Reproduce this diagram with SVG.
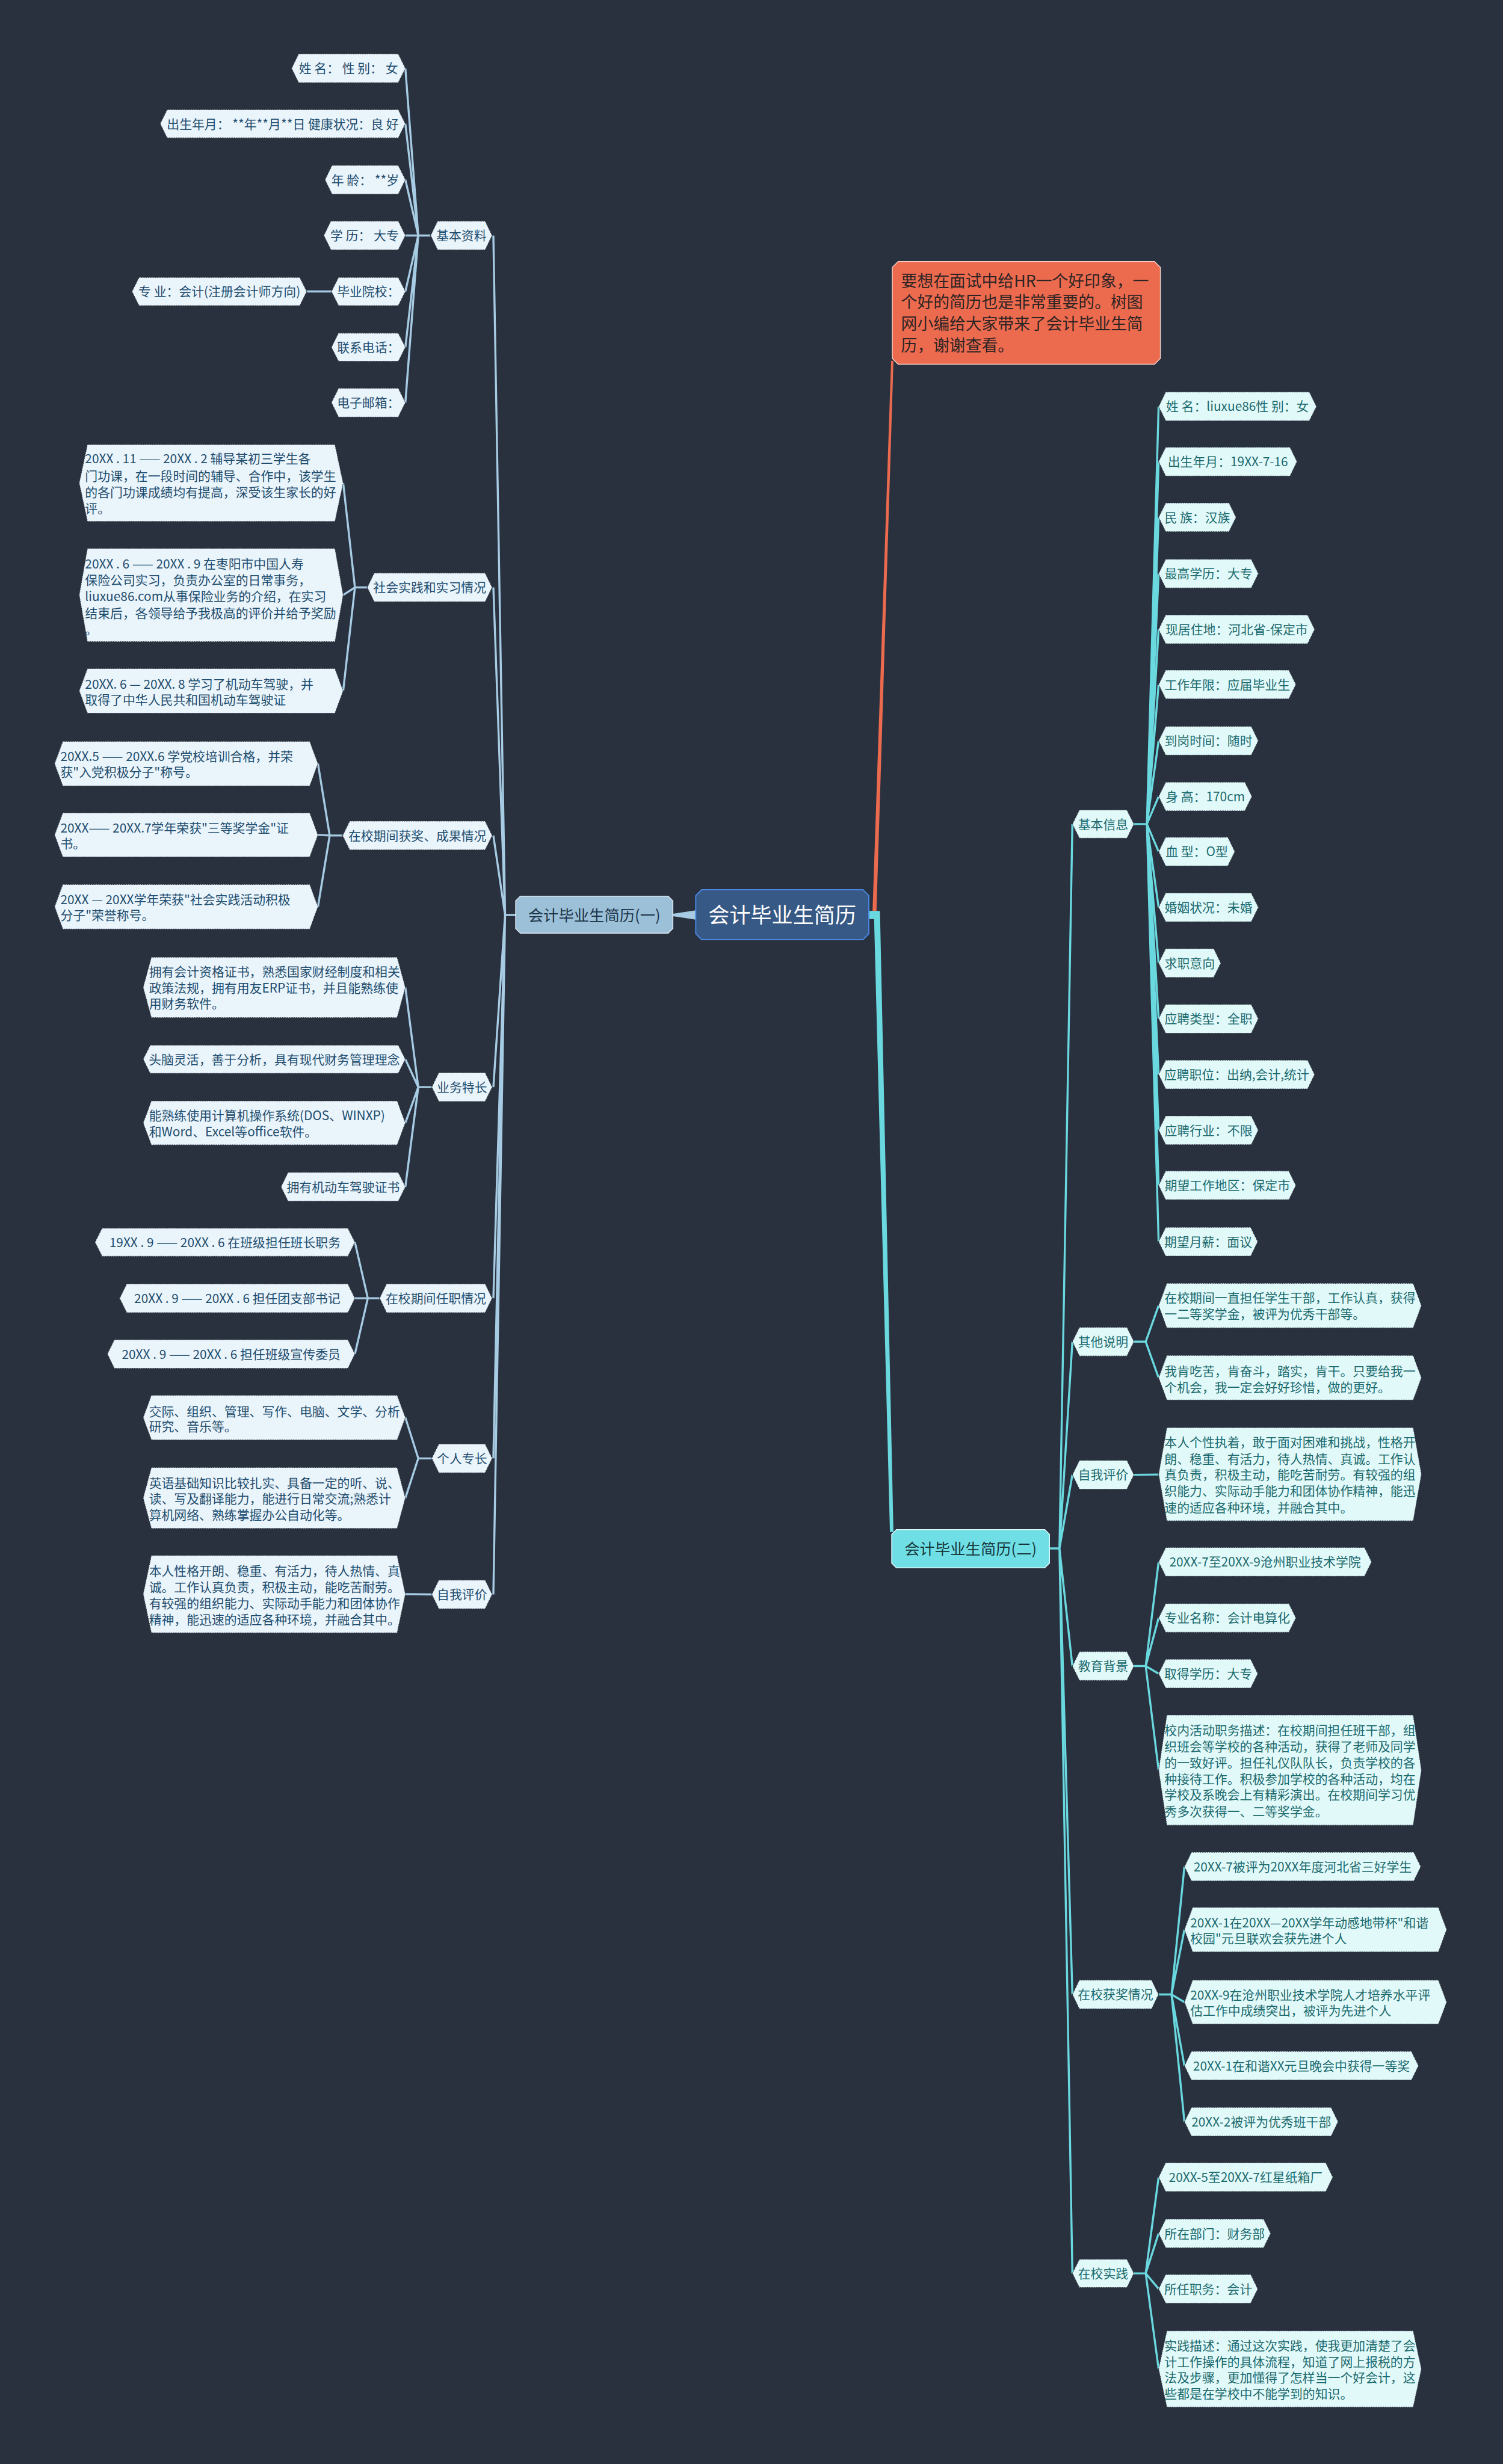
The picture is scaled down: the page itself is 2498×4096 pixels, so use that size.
<svg xmlns="http://www.w3.org/2000/svg" width="2498" height="4096" viewBox="0 0 2498 4096">
<style>
text{font-family:"Noto Sans CJK SC","Noto Sans",sans-serif;font-size:21.4px}
.hl polygon{fill:#eaf4fb;stroke:#2b3440;stroke-width:1.2;stroke-dasharray:1.5 1.5}
.hl text{fill:#1e4d6e}
.hr polygon{fill:#e2f9fa;stroke:#2b3440;stroke-width:1.2;stroke-dasharray:1.5 1.5}
.hr text{fill:#1b6a6d}
.c{text-anchor:middle}
.cl{fill:none;stroke:#a6cbe3;stroke-width:3.5;stroke-linejoin:round}
.cr{fill:none;stroke:#6ad8df;stroke-width:3.5;stroke-linejoin:round}
</style>
<rect width="2498" height="4096" fill="#29303e"/>
<g transform="scale(0.975)">
<g id="connectors">
<polygon points="1186,1552 1186,1568 1147,1562 1147,1558" fill="#a6cbe3"/>
<polygon points="1481,1556 1494,1556 1523,615 1519,615 1487,1564 1481,1564" fill="#ec6a4e"/>
<polygon points="1481,1553 1500,1553 1523,2612 1517,2612 1490,1567 1481,1567" fill="#6ad8df"/>
<path class="cl" d="M879,1560 L861,1560 L841,401.5 M861,1560 L841,1001.5 M861,1560 L841,1424.5 M861,1560 L841,1853.5 M861,1560 L841,2213.5 M861,1560 L841,2486.5 M861,1560 L841,2718.5"/>
<path class="cl" d="M734,401.5 L713,401.5 L691,116.5 M713,401.5 L691,211 M713,401.5 L691,306.5 M713,401.5 L691,401.5 M713,401.5 L691,497 M713,401.5 L691,592 M713,401.5 L691,686.5 M565,497 L523,497"/>
<path class="cl" d="M626,1001.5 L605,1001.5 L585,823.5 M605,1001.5 L585,1014.5 M605,1001.5 L585,1178"/>
<path class="cl" d="M584,1424.5 L562,1424.5 L542,1302 M562,1424.5 L542,1423.5 M562,1424.5 L542,1546"/>
<path class="cl" d="M736,1853.5 L713,1853.5 L691,1683.5 M713,1853.5 L691,1806 M713,1853.5 L691,1914.5 M713,1853.5 L691,2023.5"/>
<path class="cl" d="M647,2213.5 L627,2213.5 L605,2118 M627,2213.5 L605,2213.5 M627,2213.5 L605,2308.5"/>
<path class="cl" d="M736,2486.5 L713,2486.5 L691,2417 M713,2486.5 L691,2554"/>
<path class="cl" d="M736,2718.5 L691,2718"/>
<path class="cr" d="M1789,2640 L1806,2640 L1828,1405 M1806,2640 L1828,2287.5 M1806,2640 L1828,2514.5 M1806,2640 L1828,2840.5 M1806,2640 L1828,3400.5 M1806,2640 L1828,3876"/>
<path class="cr" d="M1933,1405 L1955,1405 L1975,693 M1955,1405 L1975,787 M1955,1405 L1975,882 M1955,1405 L1975,978 M1955,1405 L1975,1073 M1955,1405 L1975,1167 M1955,1405 L1975,1263 M1955,1405 L1975,1358 M1955,1405 L1975,1452 M1955,1405 L1975,1547 M1955,1405 L1975,1642 M1955,1405 L1975,1737 M1955,1405 L1975,1832 M1955,1405 L1975,1927 M1955,1405 L1975,2021 M1955,1405 L1975,2117"/>
<path class="cr" d="M1933,2287.5 L1953,2287.5 L1975,2226 M1953,2287.5 L1975,2349"/>
<path class="cr" d="M1933,2514.5 L1975,2514"/>
<path class="cr" d="M1933,2840.5 L1953,2840.5 L1975,2663 M1953,2840.5 L1975,2758.5 M1953,2840.5 L1975,2853.5 M1953,2840.5 L1975,3018"/>
<path class="cr" d="M1975,3400.5 L1997,3400.5 L2019,3182.5 M1997,3400.5 L2019,3290 M1997,3400.5 L2019,3413.5 M1997,3400.5 L2019,3522 M1997,3400.5 L2019,3617.5"/>
<path class="cr" d="M1933,3876 L1953,3876 L1975,3712 M1953,3876 L1975,3808 M1953,3876 L1975,3902.5 M1953,3876 L1975,4039"/>
</g>

<g id="root"><polygon points="1196,1517 1471,1517 1481,1527 1481,1592 1471,1602 1196,1602 1186,1592 1186,1527" fill="#375985" stroke="#4a86e0" stroke-width="2"/><text x="1333.5" y="1573" class="c" fill="#ffffff" style="font-size:36px">会计毕业生简历</text></g>
<g id="note"><polygon points="1531,446 1968,446 1978,456 1978,611 1968,621 1531,621 1521,611 1521,456" fill="#ec6a4e" stroke="#f6d3c9" stroke-width="1.5"/><text fill="#2e2424" style="font-size:27.5px"><tspan x="1536" y="489">要想在面试中给HR一个好印象，一</tspan><tspan x="1536" y="525">个好的简历也是非常重要的。树图</tspan><tspan x="1536" y="562">网小编给大家带来了会计毕业生简</tspan><tspan x="1536" y="599">历，谢谢查看。</tspan></text></g>
<g id="b1"><polygon points="887,1528 1139,1528 1147,1536 1147,1583 1139,1591 887,1591 879,1583 879,1536" fill="#9cc0d8" stroke="#dce9f2" stroke-width="1.5"/><text x="1013" y="1570" class="c" fill="#1c3448" style="font-size:26px">会计毕业生简历(一)</text></g>
<g id="b2"><polygon points="1528,2608 1781,2608 1789,2616 1789,2665 1781,2673 1528,2673 1520,2665 1520,2616" fill="#6fdfe5" stroke="#dff7f8" stroke-width="1.5"/><text x="1654.5" y="2650" class="c" fill="#17363a" style="font-size:26px">会计毕业生简历(二)</text></g>

<g id="n1" class="hl"><polygon points="734,401.5 746,377 827,377 839,401.5 827,426 746,426"/><text x="786.5" y="409.5" class="c">基本资料</text></g>
<g id="n1a" class="hl"><polygon points="497,116.5 509,92 679,92 691,116.5 679,141 509,141"/><text x="594" y="124.5" class="c">姓 名： 性 别： 女</text></g>
<g id="n1b" class="hl"><polygon points="273,211 285,187 679,187 691,211 679,235 285,235"/><text x="482" y="219" class="c">出生年月： **年**月**日 健康状况：良 好</text></g>
<g id="n1c" class="hl"><polygon points="554,306.5 566,282 679,282 691,306.5 679,331 566,331"/><text x="622.5" y="314.5" class="c">年 龄： **岁</text></g>
<g id="n1d" class="hl"><polygon points="552,401.5 564,377 679,377 691,401.5 679,426 564,426"/><text x="621.5" y="409.5" class="c">学 历： 大专</text></g>
<g id="n1e" class="hl"><polygon points="565,497 577,473 679,473 691,497 679,521 577,521"/><text x="628" y="505" class="c">毕业院校：</text></g>
<g id="n1e1" class="hl"><polygon points="225,497 237,473 511,473 523,497 511,521 237,521"/><text x="374" y="505" class="c">专 业：会计(注册会计师方向)</text></g>
<g id="n1f" class="hl"><polygon points="565,592 577,568 679,568 691,592 679,616 577,616"/><text x="628" y="600" class="c">联系电话：</text></g>
<g id="n1g" class="hl"><polygon points="565,686.5 577,662 679,662 691,686.5 679,711 577,711"/><text x="628" y="694.5" class="c">电子邮箱：</text></g>

<g id="n2" class="hl"><polygon points="626,1001.5 638,977 827,977 839,1001.5 827,1026 638,1026"/><text x="732.5" y="1009.5" class="c">社会实践和实习情况</text></g>
<g id="n2a" class="hl"><polygon points="135,823.5 149,758 571,758 585,823.5 571,889 149,889"/><text><tspan x="145" y="790">20XX . 11 —— 20XX . 2  辅导某初三学生各</tspan><tspan x="145" y="819">门功课，在一段时间的辅导、合作中，该学生</tspan><tspan x="145" y="847">的各门功课成绩均有提高，深受该生家长的好</tspan><tspan x="145" y="875">评。</tspan></text></g>
<g id="n2b" class="hl"><polygon points="135,1014.5 149,935 571,935 585,1014.5 571,1094 149,1094"/><text><tspan x="145" y="969">20XX . 6 —— 20XX . 9  在枣阳市中国人寿</tspan><tspan x="145" y="997">保险公司实习，负责办公室的日常事务，</tspan><tspan x="145" y="1025">liuxue86.com从事保险业务的介绍，在实习</tspan><tspan x="145" y="1053">结束后，各领导给予我极高的评价并给予奖励</tspan><tspan x="145" y="1081">。</tspan></text></g>
<g id="n2c" class="hl"><polygon points="135,1178 149,1140 571,1140 585,1178 571,1216 149,1216"/><text><tspan x="145" y="1174">20XX. 6 — 20XX. 8 学习了机动车驾驶，并</tspan><tspan x="145" y="1201">取得了中华人民共和国机动车驾驶证</tspan></text></g>

<g id="n3" class="hl"><polygon points="584,1424.5 596,1400 827,1400 839,1424.5 827,1449 596,1449"/><text x="711.5" y="1432.5" class="c">在校期间获奖、成果情况</text></g>
<g id="n3a" class="hl"><polygon points="93,1302 107,1264 528,1264 542,1302 528,1340 107,1340"/><text><tspan x="103" y="1297">20XX.5 —— 20XX.6 学党校培训合格，并荣</tspan><tspan x="103" y="1324">获"入党积极分子"称号。</tspan></text></g>
<g id="n3b" class="hl"><polygon points="93,1423.5 107,1386 528,1386 542,1423.5 528,1461 107,1461"/><text><tspan x="103" y="1419">20XX—— 20XX.7学年荣获"三等奖学金"证</tspan><tspan x="103" y="1446">书。</tspan></text></g>
<g id="n3c" class="hl"><polygon points="93,1546 107,1508 528,1508 542,1546 528,1584 107,1584"/><text><tspan x="103" y="1542">20XX — 20XX学年荣获"社会实践活动积极</tspan><tspan x="103" y="1568">分子"荣誉称号。</tspan></text></g>

<g id="n4" class="hl"><polygon points="736,1853.5 748,1829 827,1829 839,1853.5 827,1878 748,1878"/><text x="787.5" y="1861.5" class="c">业务特长</text></g>
<g id="n4a" class="hl"><polygon points="244,1683.5 258,1632 677,1632 691,1683.5 677,1735 258,1735"/><text><tspan x="254" y="1665">拥有会计资格证书，熟悉国家财经制度和相关</tspan><tspan x="254" y="1692">政策法规，拥有用友ERP证书，并且能熟练使</tspan><tspan x="254" y="1719">用财务软件。</tspan></text></g>
<g id="n4b" class="hl"><polygon points="244,1806 256,1782 679,1782 691,1806 679,1830 256,1830"/><text x="467.5" y="1814" class="c">头脑灵活，善于分析，具有现代财务管理理念</text></g>
<g id="n4c" class="hl"><polygon points="244,1914.5 258,1877 677,1877 691,1914.5 677,1952 258,1952"/><text><tspan x="254" y="1910">能熟练使用计算机操作系统(DOS、WINXP)</tspan><tspan x="254" y="1937">和Word、Excel等office软件。</tspan></text></g>
<g id="n4d" class="hl"><polygon points="479,2023.5 491,1999 679,1999 691,2023.5 679,2048 491,2048"/><text x="585" y="2031.5" class="c">拥有机动车驾驶证书</text></g>

<g id="n5" class="hl"><polygon points="647,2213.5 659,2189 827,2189 839,2213.5 827,2238 659,2238"/><text x="743" y="2221.5" class="c">在校期间任职情况</text></g>
<g id="n5a" class="hl"><polygon points="162,2118 174,2094 593,2094 605,2118 593,2142 174,2142"/><text x="383.5" y="2126" class="c">19XX . 9 —— 20XX . 6 在班级担任班长职务</text></g>
<g id="n5b" class="hl"><polygon points="204,2213.5 216,2189 593,2189 605,2213.5 593,2238 216,2238"/><text x="404.5" y="2221.5" class="c">20XX . 9 —— 20XX . 6 担任团支部书记</text></g>
<g id="n5c" class="hl"><polygon points="183,2308.5 195,2284 593,2284 605,2308.5 593,2333 195,2333"/><text x="394" y="2316.5" class="c">20XX . 9 —— 20XX . 6 担任班级宣传委员</text></g>

<g id="n6" class="hl"><polygon points="736,2486.5 748,2462 827,2462 839,2486.5 827,2511 748,2511"/><text x="787.5" y="2494.5" class="c">个人专长</text></g>
<g id="n6a" class="hl"><polygon points="244,2417 258,2379 677,2379 691,2417 677,2455 258,2455"/><text><tspan x="254" y="2414">交际、组织、管理、写作、电脑、文学、分析</tspan><tspan x="254" y="2440">研究、音乐等。</tspan></text></g>
<g id="n6b" class="hl"><polygon points="244,2554 258,2502 677,2502 691,2554 677,2606 258,2606"/><text><tspan x="254" y="2536">英语基础知识比较扎实、具备一定的听、说、</tspan><tspan x="254" y="2563">读、写及翻译能力，能进行日常交流;熟悉计</tspan><tspan x="254" y="2591">算机网络、熟练掌握办公自动化等。</tspan></text></g>

<g id="n7" class="hl"><polygon points="736,2718.5 748,2694 827,2694 839,2718.5 827,2743 748,2743"/><text x="787.5" y="2726.5" class="c">自我评价</text></g>
<g id="n7a" class="hl"><polygon points="244,2718 258,2652 677,2652 691,2718 677,2784 258,2784"/><text><tspan x="254" y="2686">本人性格开朗、稳重、有活力，待人热情、真</tspan><tspan x="254" y="2714">诚。工作认真负责，积极主动，能吃苦耐劳。</tspan><tspan x="254" y="2742">有较强的组织能力、实际动手能力和团体协作</tspan><tspan x="254" y="2769">精神，能迅速的适应各种环境，并融合其中。</tspan></text></g>

<g id="r1" class="hr"><polygon points="1828,1405 1840,1381 1921,1381 1933,1405 1921,1429 1840,1429"/><text x="1880.5" y="1413" class="c">基本信息</text></g>
<g id="r1a" class="hr"><polygon points="1975,693 1987,668.5 2232,668.5 2244,693 2232,717.5 1987,717.5"/><text x="2109.5" y="701" class="c">姓 名：liuxue86性 别：女</text></g>
<g id="r1b" class="hr"><polygon points="1975,787 1987,762.5 2199,762.5 2211,787 2199,811.5 1987,811.5"/><text x="2093" y="795" class="c">出生年月：19XX-7-16</text></g>
<g id="r1c" class="hr"><polygon points="1975,882 1987,857.5 2095,857.5 2107,882 2095,906.5 1987,906.5"/><text x="2041" y="890" class="c">民 族：汉族</text></g>
<g id="r1d" class="hr"><polygon points="1975,978 1987,953.5 2133,953.5 2145,978 2133,1002.5 1987,1002.5"/><text x="2060" y="986" class="c">最高学历：大专</text></g>
<g id="r1e" class="hr"><polygon points="1975,1073 1987,1048.5 2229,1048.5 2241,1073 2229,1097.5 1987,1097.5"/><text x="2108" y="1081" class="c">现居住地：河北省-保定市</text></g>
<g id="r1f" class="hr"><polygon points="1975,1167 1987,1142.5 2197,1142.5 2209,1167 2197,1191.5 1987,1191.5"/><text x="2092" y="1175" class="c">工作年限：应届毕业生</text></g>
<g id="r1g" class="hr"><polygon points="1975,1263 1987,1238.5 2133,1238.5 2145,1263 2133,1287.5 1987,1287.5"/><text x="2060" y="1271" class="c">到岗时间：随时</text></g>
<g id="r1h" class="hr"><polygon points="1975,1358 1987,1333.5 2122,1333.5 2134,1358 2122,1382.5 1987,1382.5"/><text x="2054.5" y="1366" class="c">身 高：170cm</text></g>
<g id="r1i" class="hr"><polygon points="1975,1452 1987,1427.5 2093,1427.5 2105,1452 2093,1476.5 1987,1476.5"/><text x="2040" y="1460" class="c">血 型：O型</text></g>
<g id="r1j" class="hr"><polygon points="1975,1547 1987,1522.5 2133,1522.5 2145,1547 2133,1571.5 1987,1571.5"/><text x="2060" y="1555" class="c">婚姻状况：未婚</text></g>
<g id="r1k" class="hr"><polygon points="1975,1642 1987,1617.5 2069,1617.5 2081,1642 2069,1666.5 1987,1666.5"/><text x="2028" y="1650" class="c">求职意向</text></g>
<g id="r1l" class="hr"><polygon points="1975,1737 1987,1712.5 2133,1712.5 2145,1737 2133,1761.5 1987,1761.5"/><text x="2060" y="1745" class="c">应聘类型：全职</text></g>
<g id="r1m" class="hr"><polygon points="1975,1832 1987,1807.5 2229,1807.5 2241,1832 2229,1856.5 1987,1856.5"/><text x="2108" y="1840" class="c">应聘职位：出纳,会计,统计</text></g>
<g id="r1n" class="hr"><polygon points="1975,1927 1987,1902.5 2133,1902.5 2145,1927 2133,1951.5 1987,1951.5"/><text x="2060" y="1935" class="c">应聘行业：不限</text></g>
<g id="r1o" class="hr"><polygon points="1975,2021 1987,1996.5 2197,1996.5 2209,2021 2197,2045.5 1987,2045.5"/><text x="2092" y="2029" class="c">期望工作地区：保定市</text></g>
<g id="r1p" class="hr"><polygon points="1975,2117 1987,2092.5 2132,2092.5 2144,2117 2132,2141.5 1987,2141.5"/><text x="2059.5" y="2125" class="c">期望月薪：面议</text></g>

<g id="r2" class="hr"><polygon points="1828,2287.5 1840,2263 1921,2263 1933,2287.5 1921,2312 1840,2312"/><text x="1880.5" y="2295.5" class="c">其他说明</text></g>
<g id="r2a" class="hr"><polygon points="1975,2226 1989,2188 2409,2188 2423,2226 2409,2264 1989,2264"/><text><tspan x="1985" y="2221">在校期间一直担任学生干部，工作认真，获得</tspan><tspan x="1985" y="2248">一二等奖学金，被评为优秀干部等。</tspan></text></g>
<g id="r2b" class="hr"><polygon points="1975,2349 1989,2311 2409,2311 2423,2349 2409,2387 1989,2387"/><text><tspan x="1985" y="2346">我肯吃苦，肯奋斗，踏实，肯干。只要给我一</tspan><tspan x="1985" y="2373">个机会，我一定会好好珍惜，做的更好。</tspan></text></g>

<g id="r3" class="hr"><polygon points="1828,2514.5 1840,2490 1921,2490 1933,2514.5 1921,2539 1840,2539"/><text x="1880.5" y="2522.5" class="c">自我评价</text></g>
<g id="r3a" class="hr"><polygon points="1975,2513.5 1989,2434 2409,2434 2423,2513.5 2409,2593 1989,2593"/><text><tspan x="1985" y="2467">本人个性执着，敢于面对困难和挑战，性格开</tspan><tspan x="1985" y="2495">朗、稳重、有活力，待人热情、真诚。工作认</tspan><tspan x="1985" y="2522">真负责，积极主动，能吃苦耐劳。有较强的组</tspan><tspan x="1985" y="2550">织能力、实际动手能力和团体协作精神，能迅</tspan><tspan x="1985" y="2578">速的适应各种环境，并融合其中。</tspan></text></g>

<g id="r4" class="hr"><polygon points="1828,2840.5 1840,2816 1921,2816 1933,2840.5 1921,2865 1840,2865"/><text x="1880.5" y="2848.5" class="c">教育背景</text></g>
<g id="r4a" class="hr"><polygon points="1975,2663 1987,2638.5 2326,2638.5 2338,2663 2326,2687.5 1987,2687.5"/><text x="2156.5" y="2671" class="c">20XX-7至20XX-9沧州职业技术学院</text></g>
<g id="r4b" class="hr"><polygon points="1975,2758.5 1987,2734 2197,2734 2209,2758.5 2197,2783 1987,2783"/><text x="2092" y="2766.5" class="c">专业名称：会计电算化</text></g>
<g id="r4c" class="hr"><polygon points="1975,2853.5 1987,2829 2132,2829 2144,2853.5 2132,2878 1987,2878"/><text x="2059.5" y="2861.5" class="c">取得学历：大专</text></g>
<g id="r4d" class="hr"><polygon points="1975,3018 1989,2924 2409,2924 2423,3018 2409,3112 1989,3112"/><text><tspan x="1985" y="2958">校内活动职务描述：在校期间担任班干部，组</tspan><tspan x="1985" y="2986">织班会等学校的各种活动，获得了老师及同学</tspan><tspan x="1985" y="3013">的一致好评。担任礼仪队队长，负责学校的各</tspan><tspan x="1985" y="3041">种接待工作。积极参加学校的各种活动，均在</tspan><tspan x="1985" y="3068">学校及系晚会上有精彩演出。在校期间学习优</tspan><tspan x="1985" y="3096">秀多次获得一、二等奖学金。</tspan></text></g>

<g id="r5" class="hr"><polygon points="1828,3400.5 1840,3376 1963,3376 1975,3400.5 1963,3425 1840,3425"/><text x="1901.5" y="3408.5" class="c">在校获奖情况</text></g>
<g id="r5a" class="hr"><polygon points="2019,3182.5 2031,3158 2410,3158 2422,3182.5 2410,3207 2031,3207"/><text x="2220.5" y="3190.5" class="c">20XX-7被评为20XX年度河北省三好学生</text></g>
<g id="r5b" class="hr"><polygon points="2019,3290 2033,3252 2452,3252 2466,3290 2452,3328 2033,3328"/><text><tspan x="2029" y="3286">20XX-1在20XX—20XX学年动感地带杯"和谐</tspan><tspan x="2029" y="3313">校园"元旦联欢会获先进个人</tspan></text></g>
<g id="r5c" class="hr"><polygon points="2019,3413.5 2033,3376 2452,3376 2466,3413.5 2452,3451 2033,3451"/><text><tspan x="2029" y="3409">20XX-9在沧州职业技术学院人才培养水平评</tspan><tspan x="2029" y="3436">估工作中成绩突出，被评为先进个人</tspan></text></g>
<g id="r5d" class="hr"><polygon points="2019,3522 2031,3497.5 2406,3497.5 2418,3522 2406,3546.5 2031,3546.5"/><text x="2218.5" y="3530" class="c">20XX-1在和谐XX元旦晚会中获得一等奖</text></g>
<g id="r5e" class="hr"><polygon points="2019,3617.5 2031,3593 2269,3593 2281,3617.5 2269,3642 2031,3642"/><text x="2150" y="3625.5" class="c">20XX-2被评为优秀班干部</text></g>

<g id="r6" class="hr"><polygon points="1828,3876 1840,3852 1921,3852 1933,3876 1921,3900 1840,3900"/><text x="1880.5" y="3884" class="c">在校实践</text></g>
<g id="r6a" class="hr"><polygon points="1975,3712 1987,3687.5 2260,3687.5 2272,3712 2260,3736.5 1987,3736.5"/><text x="2123.5" y="3720" class="c">20XX-5至20XX-7红星纸箱厂</text></g>
<g id="r6b" class="hr"><polygon points="1975,3808 1987,3783.5 2154,3783.5 2166,3808 2154,3832.5 1987,3832.5"/><text x="2070.5" y="3816" class="c">所在部门：财务部</text></g>
<g id="r6c" class="hr"><polygon points="1975,3902.5 1987,3878 2132,3878 2144,3902.5 2132,3927 1987,3927"/><text x="2059.5" y="3910.5" class="c">所任职务：会计</text></g>
<g id="r6d" class="hr"><polygon points="1975,4039 1989,3974 2409,3974 2423,4039 2409,4104 1989,4104"/><text><tspan x="1985" y="4007">实践描述：通过这次实践，使我更加清楚了会</tspan><tspan x="1985" y="4035">计工作操作的具体流程，知道了网上报税的方</tspan><tspan x="1985" y="4062">法及步骤，更加懂得了怎样当一个好会计，这</tspan><tspan x="1985" y="4089">些都是在学校中不能学到的知识。</tspan></text></g>
</g>
</svg>
